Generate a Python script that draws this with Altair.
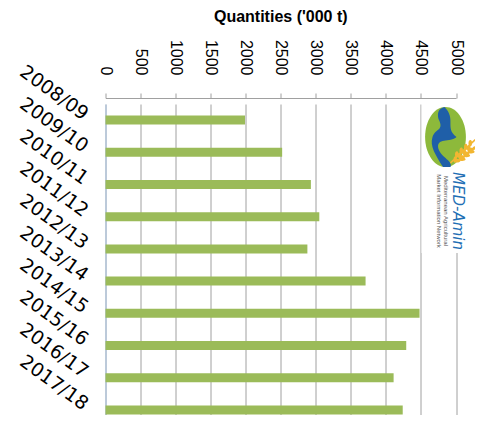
import altair as alt
import pandas as pd

seasons = ["2008/09", "2009/10", "2010/11", "2011/12", "2012/13",
           "2013/14", "2014/15", "2015/16", "2016/17", "2017/18"]
quantities = [1990, 2520, 2930, 3050, 2880, 3710, 4480, 4290, 4110, 4240]
x_ticks = [0, 500, 1000, 1500, 2000, 2500, 3000, 3500, 4000, 4500, 5000]

df = pd.DataFrame({"season": seasons, "qty": quantities})

W, H = 350.5, 317

bars = alt.Chart(df).mark_bar(size=9, color="#9BBB59").encode(
    x=alt.X("qty:Q",
            scale=alt.Scale(domain=[0, 5000], nice=False),
            axis=alt.Axis(orient="top", values=x_ticks, format="d", labelAngle=90,
                          labelAlign="right", labelBaseline="middle",
                          labelPadding=18, labelFontSize=16,
                          labelFont="Liberation Sans", labelColor="#000000",
                          grid=True, gridColor="#A0A0A0", domainColor="#A0A0A0",
                          tickColor="#A0A0A0", tickSize=5, title=None)),
    y=alt.Y("season:N", sort=seasons,
            scale=alt.Scale(paddingInner=0, paddingOuter=0, range=[6, 328]),
            axis=alt.Axis(labelAngle=36, labelAlign="right", labelBaseline="middle",
                          labelPadding=20, labelOffset=-4, labelFontSize=19,
                          labelFont="DejaVu Sans",
                          labelColor="#000000", ticks=False, domainColor="#A9C4E4",
                          title=None)),
)

# MED-Amin logo (decorative approximation)
logo = pd.DataFrame({"k": [0]})
box = alt.Chart(logo).mark_rect(color="white").encode(
    x=alt.value(316), x2=alt.value(380), y=alt.value(5), y2=alt.value(155))
ellipse = alt.Chart(logo).mark_point(
    filled=True, opacity=1, color="#8DB93B",
    shape="M -0.68 0 A 0.68 1 0 1 0 0.68 0 A 0.68 1 0 1 0 -0.68 0").encode(
    x=alt.value(340), y=alt.value(39), size=alt.value(3600))
blue = alt.Chart(logo).mark_point(
    filled=True, opacity=1, color="#1F5FA8",
    shape="M -0.1 -1 C 0.3 -0.6 -0.1 -0.3 0.3 0 C 0.1 0.2 -0.4 0.0 -0.3 0.4 C -0.2 0.7 0.2 0.8 0.1 1 L -0.15 1 C -0.4 0.6 -0.6 0.3 -0.5 0 C -0.4 -0.3 -0.1 -0.2 -0.3 -0.6 C -0.35 -0.8 -0.3 -0.95 -0.1 -1 Z").encode(
    x=alt.value(342), y=alt.value(39), size=alt.value(3600))
wheat = alt.Chart(logo).mark_point(
    filled=True, opacity=1, color="#F2B631",
    shape=("M -0.9 0.75 L -0.85 0.85 L 0.8 -0.7 L 0.75 -0.8 Z "
           "M -0.55 0.35 A 0.12 0.22 0 1 0 -0.45 0.45 A 0.12 0.22 0 1 0 -0.55 0.35 Z "
           "M -0.25 0.1 A 0.12 0.22 0 1 0 -0.15 0.2 A 0.12 0.22 0 1 0 -0.25 0.1 Z "
           "M 0.05 -0.15 A 0.12 0.22 0 1 0 0.15 -0.05 A 0.12 0.22 0 1 0 0.05 -0.15 Z "
           "M 0.35 -0.4 A 0.12 0.22 0 1 0 0.45 -0.3 A 0.12 0.22 0 1 0 0.35 -0.4 Z "
           "M -0.3 0.55 A 0.22 0.12 0 1 0 -0.2 0.65 A 0.22 0.12 0 1 0 -0.3 0.55 Z "
           "M 0.0 0.3 A 0.22 0.12 0 1 0 0.1 0.4 A 0.22 0.12 0 1 0 0.0 0.3 Z "
           "M 0.3 0.05 A 0.22 0.12 0 1 0 0.4 0.15 A 0.22 0.12 0 1 0 0.3 0.05 Z "
           "M 0.6 -0.2 A 0.22 0.12 0 1 0 0.7 -0.1 A 0.22 0.12 0 1 0 0.6 -0.2 Z")).encode(
    x=alt.value(358), y=alt.value(53), size=alt.value(900))
brand = alt.Chart(logo).mark_text(
    text="MED-Amin", angle=90, fontSize=15, color="#1F6FB5",
    fontStyle="italic", font="DejaVu Sans").encode(
    x=alt.value(352), y=alt.value(113))
sub1 = alt.Chart(logo).mark_text(
    text="Mediterranean Agricultural", angle=90, fontSize=6, color="#555555",
    font="Liberation Sans").encode(x=alt.value(340), y=alt.value(113))
sub2 = alt.Chart(logo).mark_text(
    text="Market Information Network", angle=90, fontSize=6, color="#555555",
    font="Liberation Sans").encode(x=alt.value(333), y=alt.value(113))

chart = alt.layer(bars, box, ellipse, blue, wheat, brand, sub1, sub2).properties(
    width=W, height=H,
    title=alt.TitleParams("Quantities ('000 t)", anchor="middle", fontSize=16,
                          fontWeight="bold", font="Liberation Sans", color="#000000",
                          offset=14),
    autosize=alt.AutoSizeParams(type="none"),
    padding={"left": 97.5, "top": 90, "right": 19, "bottom": 0},
).configure_view(stroke=None)

chart.save("out.html", embed_options={"renderer": "svg", "actions": False})
